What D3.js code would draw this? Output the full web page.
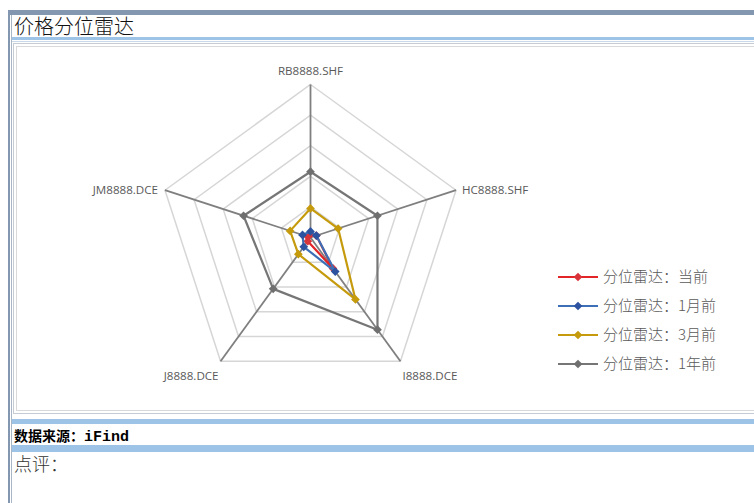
<!DOCTYPE html>
<html>
<head>
<meta charset="utf-8">
<script src="https://cdn.jsdelivr.net/npm/d3@7"></script>
<style>
  body { margin: 0; background: #fff; }
  svg { display: block; }
</style>
</head>
<body>
<div id="chart"></div>
<script>
// axes in clockwise order, starting at the top
const axes = ["RB8888.SHF", "HC8888.SHF", "I8888.DCE", "J8888.DCE", "JM8888.DCE"];
const seriesNames = ["分位雷达：当前", "分位雷达：1月前", "分位雷达：3月前", "分位雷达：1年前"];
const valNow = [0.02, 0.04, 0.25, 0.03, 0.02];
const val1M = [0.04, 0.04, 0.275, 0.075, 0.055];
const val3M = [0.19, 0.19, 0.50, 0.135, 0.14];
const val1Y = [0.43, 0.46, 0.745, 0.415, 0.46];
const ringTicks = [0.2, 0.4, 0.6, 0.8, 1.0];

const seriesValues = [valNow, val1M, val3M, val1Y];
const lineColors = ["#e32528", "#3d6fb6", "#c59a0c", "#767676"];
const markColors = ["#d8343a", "#2d52a0", "#c59a0c", "#6f6f6f"];

const W = 754, H = 503;
const cx = 310.5, cy = 237.5, R = 153;

const svg = d3.select("#chart").append("svg")
    .attr("width", W)
    .attr("height", H);

///////////////////////////////////////////////////////////////////////////
///////////////////////////// Page frame //////////////////////////////////
///////////////////////////////////////////////////////////////////////////

svg.append("rect").attr("x", 0).attr("y", 0).attr("width", W).attr("height", H).attr("fill", "#fff");

// top band + left double rule
svg.append("rect").attr("x", 8).attr("y", 10).attr("width", W - 8).attr("height", 5).attr("fill", "#8497b0");
svg.append("rect").attr("x", 8).attr("y", 10).attr("width", 2).attr("height", H - 10).attr("fill", "#8497b0");
svg.append("rect").attr("x", 11).attr("y", 15).attr("width", 1).attr("height", H - 15).attr("fill", "#a9b6c6");

svg.append("text")
    .attr("x", 14).attr("y", 34)
    .style("font-family", "'Noto Sans CJK SC'")
    .style("font-size", "20px")
    .style("font-weight", 300)
    .attr("fill", "#111")
    .text("价格分位雷达");

// blue rule under the title
svg.append("rect").attr("x", 12).attr("y", 37).attr("width", W - 12).attr("height", 3).attr("fill", "#9dc3e6");
svg.append("rect").attr("x", 12).attr("y", 41).attr("width", W - 12).attr("height", 1).attr("fill", "#c9d9ea");

// chart box
svg.append("rect").attr("x", 13.5).attr("y", 43.5).attr("width", W).attr("height", 370)
    .attr("fill", "#fff").attr("stroke", "#c6ccd3");
svg.append("rect").attr("x", 16.5).attr("y", 46.5).attr("width", W).attr("height", 364)
    .attr("fill", "#fff").attr("stroke", "#d9d9d9");

// source row
svg.append("rect").attr("x", 12).attr("y", 419).attr("width", W - 12).attr("height", 5).attr("fill", "#9dc3e6");
const src = svg.append("text")
    .attr("x", 14).attr("y", 441)
    .style("font-size", "14px")
    .style("font-weight", "bold")
    .attr("fill", "#000");
src.append("tspan").style("font-family", "'Noto Sans CJK SC'").text("数据来源：");
src.append("tspan").style("font-family", "'Liberation Mono'").style("font-size", "15px").text("iFind");
svg.append("rect").attr("x", 12).attr("y", 445).attr("width", W - 12).attr("height", 7).attr("fill", "#9dc3e6");

svg.append("text")
    .attr("x", 14).attr("y", 471)
    .style("font-family", "'Noto Sans CJK SC'")
    .style("font-size", "18px")
    .style("font-weight", 300)
    .attr("fill", "#333")
    .text("点评：");

///////////////////////////////////////////////////////////////////////////
///////////////////////////// Radar chart /////////////////////////////////
///////////////////////////////////////////////////////////////////////////

const rScale = d3.scaleLinear().domain([0, 1]).range([0, R]);
const angle = d3.scalePoint().domain(axes).range([0, 2 * Math.PI * (axes.length - 1) / axes.length]);

const radar = svg.append("g").attr("transform", "translate(" + cx + "," + cy + ")");

const radial = d3.lineRadial()
    .angle(function(d, i) { return angle(axes[i]); })
    .radius(function(d) { return rScale(d); })
    .curve(d3.curveLinearClosed);

function pt(a, v) {
    const ang = angle(a);
    return [Math.sin(ang) * rScale(v), -Math.cos(ang) * rScale(v)];
}

// rings
radar.selectAll(".ring")
    .data(ringTicks)
    .enter().append("path")
    .attr("class", "ring")
    .attr("d", function(t) { return radial(axes.map(function() { return t; })); })
    .attr("fill", "none")
    .attr("stroke", "#d6d6d6")
    .attr("stroke-width", 1.5);

// spokes
radar.selectAll(".spoke")
    .data(axes)
    .enter().append("line")
    .attr("class", "spoke")
    .attr("x1", 0).attr("y1", 0)
    .attr("x2", function(a) { return pt(a, 1)[0]; })
    .attr("y2", function(a) { return pt(a, 1)[1]; })
    .attr("stroke", "#7f7f7f")
    .attr("stroke-width", 1.8);

// axis labels
const labelPos = {
    "RB8888.SHF": { dx: 0, dy: -10, anchor: "middle" },
    "HC8888.SHF": { dx: 6, dy: 4, anchor: "start" },
    "I8888.DCE": { dx: 2, dy: 19, anchor: "start" },
    "J8888.DCE": { dx: -2, dy: 19, anchor: "end" },
    "JM8888.DCE": { dx: -7, dy: 4, anchor: "end" }
};
radar.selectAll(".axisLabel")
    .data(axes)
    .enter().append("text")
    .attr("class", "axisLabel")
    .attr("x", function(a) { return pt(a, 1)[0] + labelPos[a].dx; })
    .attr("y", function(a) { return pt(a, 1)[1] + labelPos[a].dy; })
    .attr("text-anchor", function(a) { return labelPos[a].anchor; })
    .style("font-family", "'Open Sans'")
    .style("font-size", "11.6px")
    .attr("fill", "#595959")
    .text(function(a) { return a; });

const diamond = d3.symbol().type(d3.symbolSquare).size(38);

// series
seriesValues.forEach(function(vals, s) {
    const g = radar.append("g").attr("class", "series");
    g.append("path")
        .attr("d", radial(vals))
        .attr("fill", "none")
        .attr("stroke", lineColors[s])
        .attr("stroke-width", 2.2)
        .attr("stroke-linejoin", "round");
    g.selectAll(".mk")
        .data(vals)
        .enter().append("path")
        .attr("class", "mk")
        .attr("d", diamond)
        .attr("transform", function(v, i) {
            const p = pt(axes[i], v);
            return "translate(" + p[0] + "," + p[1] + ") rotate(45)";
        })
        .attr("fill", markColors[s]);
});

///////////////////////////////////////////////////////////////////////////
////////////////////////////// Legend /////////////////////////////////////
///////////////////////////////////////////////////////////////////////////

const legendY = d3.scalePoint().domain(seriesNames).range([277, 364]);
const legend = svg.append("g").attr("class", "legend");

const item = legend.selectAll(".item")
    .data(seriesNames)
    .enter().append("g")
    .attr("class", "item")
    .attr("transform", function(d) { return "translate(558," + legendY(d) + ")"; });

item.append("line")
    .attr("x1", 0).attr("x2", 40)
    .attr("stroke", function(d, i) { return lineColors[i]; })
    .attr("stroke-width", 2.2);
item.append("path")
    .attr("d", diamond)
    .attr("transform", "translate(20,0) rotate(45)")
    .attr("fill", function(d, i) { return markColors[i]; });
item.append("text")
    .attr("x", 45).attr("y", 5)
    .style("font-family", "'Noto Sans CJK SC'")
    .style("font-size", "15px")
    .style("font-weight", 300)
    .attr("fill", "#595959")
    .text(function(d) { return d; });
</script>
</body>
</html>
